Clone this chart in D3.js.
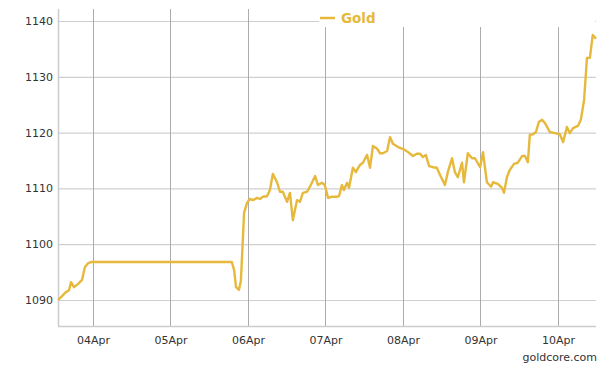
<!DOCTYPE html>
<html><head><meta charset="utf-8">
<script src="https://cdn.jsdelivr.net/npm/d3@7"></script>
<style>body{margin:0;background:#fff}svg{display:block}</style>
</head><body>
<svg id="c" width="612" height="367"></svg>
<script>
// hours since 2015-04-04 00:00
const hours = [-10.8,-9.6,-8.4,-7.4,-6.8,-5.9,-4.6,-3.4,-2.5,-1.5,-0.6,43.0,43.7,44.3,45.2,45.8,46.8,47.7,48.6,49.6,50.8,51.7,52.6,53.9,54.8,55.7,57.0,57.9,58.8,60.1,61.0,61.9,63.2,64.1,65.0,66.3,67.2,68.8,69.7,70.9,71.8,72.8,74.0,75.6,76.2,77.1,77.7,78.7,79.3,80.5,81.4,82.7,83.6,84.9,85.8,86.7,88.0,88.9,89.8,91.1,92.0,92.9,94.5,96.6,97.6,99.1,100.3,101.3,102.2,103.1,104.1,105.3,106.5,107.5,109.0,109.9,111.2,112.1,113.0,114.3,114.9,116.1,117.4,118.3,119.9,120.8,122.0,123.3,123.9,125.4,126.7,127.3,128.2,129.1,130.4,131.6,132.9,133.8,134.7,135.3,136.3,137.2,138.1,139.1,140.0,141.5,143.1,144.6,145.6,146.8,147.7,148.7,150.2,151.1,152.1,153.0,153.9,154.8,155.8];
const prices = [1090.0,1090.7,1091.4,1091.8,1093.2,1092.3,1092.9,1093.6,1095.9,1096.6,1096.8,1096.8,1095.4,1092.3,1091.8,1093.4,1105.6,1107.4,1108.1,1107.9,1108.3,1108.1,1108.5,1108.6,1109.7,1112.6,1111.1,1109.4,1109.4,1107.6,1109.2,1104.3,1107.9,1107.6,1109.2,1109.4,1110.3,1112.2,1110.6,1111.0,1110.6,1108.3,1108.5,1108.5,1108.6,1110.6,1109.7,1111.0,1110.1,1113.7,1112.9,1114.2,1114.6,1116.0,1113.7,1117.6,1117.1,1116.3,1116.3,1116.7,1119.2,1118.0,1117.4,1116.9,1116.5,1115.8,1116.2,1116.2,1115.6,1116.0,1114.0,1113.8,1113.7,1112.4,1110.6,1112.9,1115.4,1112.9,1112.0,1114.6,1111.1,1116.3,1115.4,1115.4,1113.8,1116.5,1111.1,1110.3,1111.1,1110.8,1110.1,1109.2,1112.0,1113.3,1114.4,1114.6,1115.8,1115.8,1114.7,1119.6,1119.7,1120.1,1121.9,1122.3,1121.7,1120.1,1119.9,1119.7,1118.3,1121.0,1119.9,1120.8,1121.2,1122.3,1125.8,1133.4,1133.4,1137.5,1136.8];
const yTicks = [1090,1100,1110,1120,1130,1140];
const xTickLabels = ["04Apr","05Apr","06Apr","07Apr","08Apr","09Apr","10Apr"];
const seriesName = "Gold";
const credit = "goldcore.com";

const base = new Date(2015,3,4,0,0);
const data = hours.map((h,i)=>({t:new Date(base.getTime()+h*3600e3), v:prices[i]}));
const xTicks = xTickLabels.map((_,i)=>new Date(2015,3,4+i));

const L=58,R=596,T=9,B=326;
const svg=d3.select("#c");
const x=d3.scaleTime().domain([new Date(base.getTime()-10.84*3600e3), new Date(base.getTime()+155.8*3600e3)]).range([L,R]);
const y=d3.scaleLinear().domain([1085.34,1142.15]).range([B,T]);
const font="DejaVu Sans, Verdana, sans-serif";

// horizontal grid
svg.append("g").selectAll("line").data(yTicks).join("line")
  .attr("x1",L).attr("x2",R).attr("y1",d=>y(d)+0.5).attr("y2",d=>y(d)+0.5)
  .attr("stroke","#cfcfcf").attr("stroke-width",1.2);
// vertical grid
svg.append("g").selectAll("line").data(xTicks).join("line")
  .attr("x1",d=>Math.round(x(d))+0.5).attr("x2",d=>Math.round(x(d))+0.5).attr("y1",T).attr("y2",B)
  .attr("stroke","#ababab").attr("stroke-width",1);
// axis lines
svg.append("line").attr("x1",L+0.5).attr("x2",L+0.5).attr("y1",T).attr("y2",B).attr("stroke","#cccccc").attr("stroke-width",1.5);
svg.append("line").attr("x1",L).attr("x2",R).attr("y1",B+0.5).attr("y2",B+0.5).attr("stroke","#cccccc").attr("stroke-width",1.5);

// y labels
const yAxis=d3.axisLeft(y).tickValues(yTicks).tickSize(0).tickPadding(5).tickFormat(d3.format("d"));
const gy=svg.append("g").attr("transform",`translate(${L},0)`).call(yAxis);
gy.select(".domain").remove();
gy.selectAll("text").attr("font-family",font).attr("font-size",11).attr("fill","#333");
// x labels
const xAxis=d3.axisBottom(x).tickValues(xTicks).tickSize(0).tickPadding(10).tickFormat((d,i)=>xTickLabels[i]);
const gx=svg.append("g").attr("transform",`translate(0,${B})`).call(xAxis);
gx.select(".domain").remove();
gx.selectAll("text").attr("font-family",font).attr("font-size",11).attr("fill","#333");

// line
const line=d3.line().x(d=>x(d.t)).y(d=>y(d.v));
svg.append("path").datum(data).attr("d",line).attr("fill","none")
  .attr("stroke","#e6b93c").attr("stroke-width",2.4).attr("stroke-linejoin","round");

// legend with white background
svg.append("rect").attr("x",319).attr("y",0).attr("width",276).attr("height",27).attr("fill","#fff");
svg.append("line").attr("x1",320).attr("x2",335).attr("y1",18).attr("y2",18).attr("stroke","#e6b93c").attr("stroke-width",2.5);
svg.append("text").attr("x",341).attr("y",23).text(seriesName)
  .attr("font-family",font).attr("font-weight","bold").attr("font-size",13.5).attr("fill","#e6b93c");

// credit
svg.append("text").attr("x",597).attr("y",361).attr("text-anchor","end").text(credit)
  .attr("font-family",font).attr("font-size",11).attr("fill","#333");
</script>
</body></html>
